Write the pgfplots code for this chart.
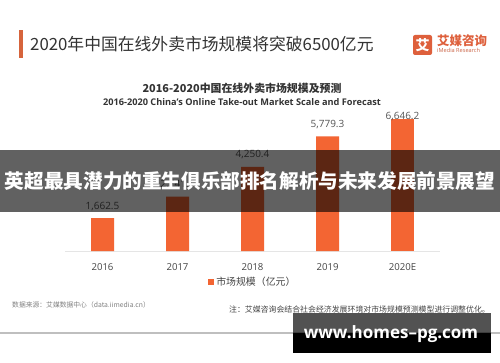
\documentclass[border=0pt]{standalone}
\usepackage{pgfplots}
\pgfplotsset{compat=1.18}
\usepackage{fontspec}
\setmainfont{Open Sans}
\newfontfamily\cjk{Noto Sans CJK SC}
\definecolor{barOrange}{RGB}{243,101,51}
\definecolor{titleBar}{RGB}{214,100,60}
\definecolor{logoOrange}{RGB}{222,96,60}
\definecolor{textDark}{HTML}{333333}
\definecolor{labelGray}{HTML}{555555}
\definecolor{tickGray}{HTML}{444444}
\definecolor{lineGray}{HTML}{E5E5E5}
\begin{document}
\begin{tikzpicture}[x=1pt,y=1pt]
\useasboundingbox (0,0) rectangle (500,362);
\fill[white] (0,0) rectangle (500,362);
% header
\fill[titleBar] (19,304) rectangle (23,332);
\node[anchor=west, inner sep=0pt, text=textDark, font=\cjk\fontsize{16.8}{18}\selectfont] at (30,318) {2020年中国在线外卖市场规模将突破6500亿元};
\fill[logoOrange, rounded corners=2pt] (413,307) rectangle (432,327);
\node[text=white, font=\cjk\bfseries\fontsize{14}{14}\selectfont, inner sep=0pt] at (422.5,317) {艾};
\node[anchor=west, inner sep=0pt, text=logoOrange, font=\cjk\bfseries\fontsize{12.5}{13}\selectfont] at (437,321.3) {艾媒咨询};
\node[anchor=west, inner sep=0pt, text=logoOrange!80!gray, font=\fontsize{5.6}{6}\selectfont] at (437,311.3) {iMedia Research};
% chart titles
\node[inner sep=0pt, text=textDark, font=\cjk\bfseries\fontsize{10.9}{12}\selectfont] at (242,273.7) {2016-2020中国在线外卖市场规模及预测};
\node[inner sep=0pt, text=textDark, font=\bfseries\fontsize{9.2}{11}\selectfont] at (242,260.3) {2016-2020 China's Online Take-out Market Scale and Forecast};
\begin{axis}[
  at={(65pt,111pt)}, anchor=south west, scale only axis,
  width=375pt, height=138.7pt,
  xmin=-0.5, xmax=4.5, ymin=0, ymax=7000,
  axis x line*=bottom, axis y line=none,
  x axis line style={draw=lineGray, line width=0.7pt, -},
  xtick={0,1,2,3,4}, xticklabels={2016,2017,2018,2019,2020E},
  major tick length=0pt, ytick=\empty,
  xticklabel style={font=\fontsize{9.6}{10}\selectfont, text=tickGray, anchor=center, yshift=-15.7pt},
  ybar, bar width=23pt, bar shift=0pt, clip=false,
  /pgf/number format/assume math mode=true,
  nodes near coords={\pgfmathprintnumber[fixed,fixed zerofill,precision=1,1000 sep={,}]{\pgfplotspointmeta}},
  every node near coord/.append style={font=\fontsize{10}{12}\selectfont, text=labelGray, anchor=center},
  legend style={at={(0.501,-0.2235)}, anchor=center, draw=none, fill=none, inner sep=0pt,
    font=\cjk\fontsize{9.9}{11}\selectfont, text=tickGray},
  legend image code/.code={\fill[barOrange] (0pt,-3pt) rectangle (6pt,3pt);},
]
\addplot[fill=barOrange, draw=none, every node near coord/.append style={yshift=12pt}]
  coordinates {(0,1662.5) (1,2741.1) (2,4250.4) (3,5779.3)};
\addlegendentry{市场规模（亿元）}
\addplot[fill=barOrange, draw=none, forget plot, every node near coord/.append style={yshift=2.6pt}]
  coordinates {(4,6646.2)};
\end{axis}
% footer
\node[anchor=east, inner sep=0pt, text=tickGray, font=\cjk\fontsize{7.9}{9}\selectfont] at (490,52) {注：艾媒咨询会结合社会经济发展环境对市场规模预测模型进行调整优化。};
\node[anchor=west, inner sep=0pt, text=gray, font=\cjk\fontsize{6.8}{8}\selectfont] at (12,57) {数据来源：艾媒数据中心（data.iimedia.cn）};
\draw[line width=1.2pt, color=black!25] (0,29) -- (500,29);
% overlays
\fill[black, opacity=0.62] (0,150.5) rectangle (500,212);
\node[text=white, inner sep=0pt, font=\cjk\bfseries\fontsize{19.6}{22}\selectfont] at (250,181.3) {英超最具潜力的重生俱乐部排名解析与未来发展前景展望};
\fill[black, opacity=0.68] (293,29) rectangle (491,49);
\fill[black] (293,9) rectangle (491,29);
\node[anchor=base, inner sep=0pt, text=white, font=\bfseries\fontsize{17}{18}\selectfont] at (391,24) {www.homes--pg.com};
\end{tikzpicture}
\end{document}
